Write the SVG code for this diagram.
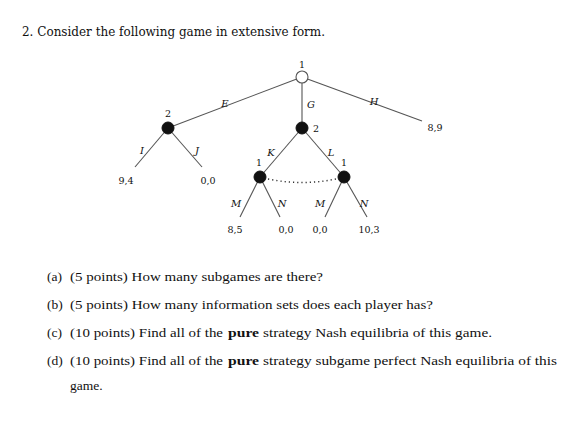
<svg xmlns="http://www.w3.org/2000/svg" width="573" height="442" viewBox="0 0 573 442">
<style>
.t{font-family:"DejaVu Serif","Liberation Serif",serif;font-size:12.5px;fill:#111}
.q{font-family:"Liberation Serif","DejaVu Serif",serif;font-size:13.5px;fill:#111}
.b{font-weight:bold}
.s{font-family:"DejaVu Serif","Liberation Serif",serif;font-size:9.5px;fill:#111}
.i{font-family:"DejaVu Serif","Liberation Serif",serif;font-size:10px;font-style:italic;fill:#111}
.e{stroke:#555;stroke-width:1.1;fill:none}
.d{fill:#111;stroke:#111}
</style>
<rect width="573" height="442" fill="#fff"/>
<text class="t" x="22" y="36" textLength="303" lengthAdjust="spacingAndGlyphs">2.  Consider the following game in extensive form.</text>
<g id="connectors">
<line class="e" x1="302" y1="77" x2="168" y2="128"/>
<line class="e" x1="302" y1="77" x2="302" y2="128"/>
<line class="e" x1="302" y1="77" x2="422" y2="121"/>
<line class="e" x1="168" y1="128" x2="135" y2="167"/>
<line class="e" x1="168" y1="128" x2="202" y2="167"/>
<line class="e" x1="302" y1="128" x2="260" y2="177"/>
<line class="e" x1="302" y1="128" x2="344" y2="177"/>
<line class="e" x1="260" y1="177" x2="240" y2="217"/>
<line class="e" x1="260" y1="177" x2="280" y2="217"/>
<line class="e" x1="344" y1="177" x2="325" y2="217"/>
<line class="e" x1="344" y1="177" x2="367" y2="217"/>
<path d="M268 179 Q302 186 336 179" stroke="#333" stroke-width="1.4" stroke-dasharray="1.2 3" fill="none"/>
</g>
<g id="labels">
<text class="i" x="225" y="107" text-anchor="middle">E</text>
<text class="i" x="311" y="108" text-anchor="middle">G</text>
<text class="i" x="374" y="105" text-anchor="middle">H</text>
<text class="i" x="142" y="154" text-anchor="middle">I</text>
<text class="i" x="197" y="154" text-anchor="middle">J</text>
<text class="i" x="271" y="156" text-anchor="middle">K</text>
<text class="i" x="331" y="156" text-anchor="middle">L</text>
<text class="i" x="236" y="207" text-anchor="middle">M</text>
<text class="i" x="282" y="207" text-anchor="middle">N</text>
<text class="i" x="320" y="207" text-anchor="middle">M</text>
<text class="i" x="364" y="207" text-anchor="middle">N</text>
</g>
<g id="n-root">
<circle cx="302" cy="77" r="6" fill="#fff" stroke="#555" stroke-width="1.1"/>
<text class="s" x="302" y="68" text-anchor="middle">1</text>
</g>
<g id="n-2left">
<circle class="d" cx="168" cy="128" r="6"/>
<text class="s" x="168" y="117" text-anchor="middle">2</text>
</g>
<g id="n-2mid">
<circle class="d" cx="302" cy="128" r="6"/>
<text class="s" x="316" y="132" text-anchor="middle">2</text>
</g>
<g id="n-1K">
<circle class="d" cx="260" cy="177" r="6"/>
<text class="s" x="259" y="166" text-anchor="middle">1</text>
</g>
<g id="n-1L">
<circle class="d" cx="344" cy="177" r="6"/>
<text class="s" x="344" y="166" text-anchor="middle">1</text>
</g>
<g id="payoffs">
<text class="s" x="435" y="131" text-anchor="middle">8,9</text>
<text class="s" x="126" y="184" text-anchor="middle">9,4</text>
<text class="s" x="208" y="184" text-anchor="middle">0,0</text>
<text class="s" x="235" y="233" text-anchor="middle">8,5</text>
<text class="s" x="286" y="233" text-anchor="middle">0,0</text>
<text class="s" x="320" y="233" text-anchor="middle">0,0</text>
<text class="s" x="369" y="233" text-anchor="middle">10,3</text>
</g>
<g id="questions">
<text class="q" x="47" y="281">(a)</text>
<text class="q" x="70" y="281" textLength="253" lengthAdjust="spacingAndGlyphs">(5 points) How many subgames are there?</text>
<text class="q" x="47" y="309">(b)</text>
<text class="q" x="70" y="309" textLength="363" lengthAdjust="spacingAndGlyphs">(5 points) How many information sets does each player has?</text>
<text class="q" x="47" y="337">(c)</text>
<text class="q" x="70" y="337" textLength="153" lengthAdjust="spacingAndGlyphs">(10 points) Find all of the</text>
<text class="q b" x="228" y="337" textLength="31" lengthAdjust="spacingAndGlyphs">pure</text>
<text class="q" x="263" y="337" textLength="229" lengthAdjust="spacingAndGlyphs">strategy Nash equilibria of this game.</text>
<text class="q" x="47" y="365">(d)</text>
<text class="q" x="70" y="365" textLength="153" lengthAdjust="spacingAndGlyphs">(10 points) Find all of the</text>
<text class="q b" x="228" y="365" textLength="31" lengthAdjust="spacingAndGlyphs">pure</text>
<text class="q" x="263" y="365" textLength="294" lengthAdjust="spacingAndGlyphs">strategy subgame perfect Nash equilibria of this</text>
<text class="q" x="70" y="390">game.</text>
</g>
</svg>
